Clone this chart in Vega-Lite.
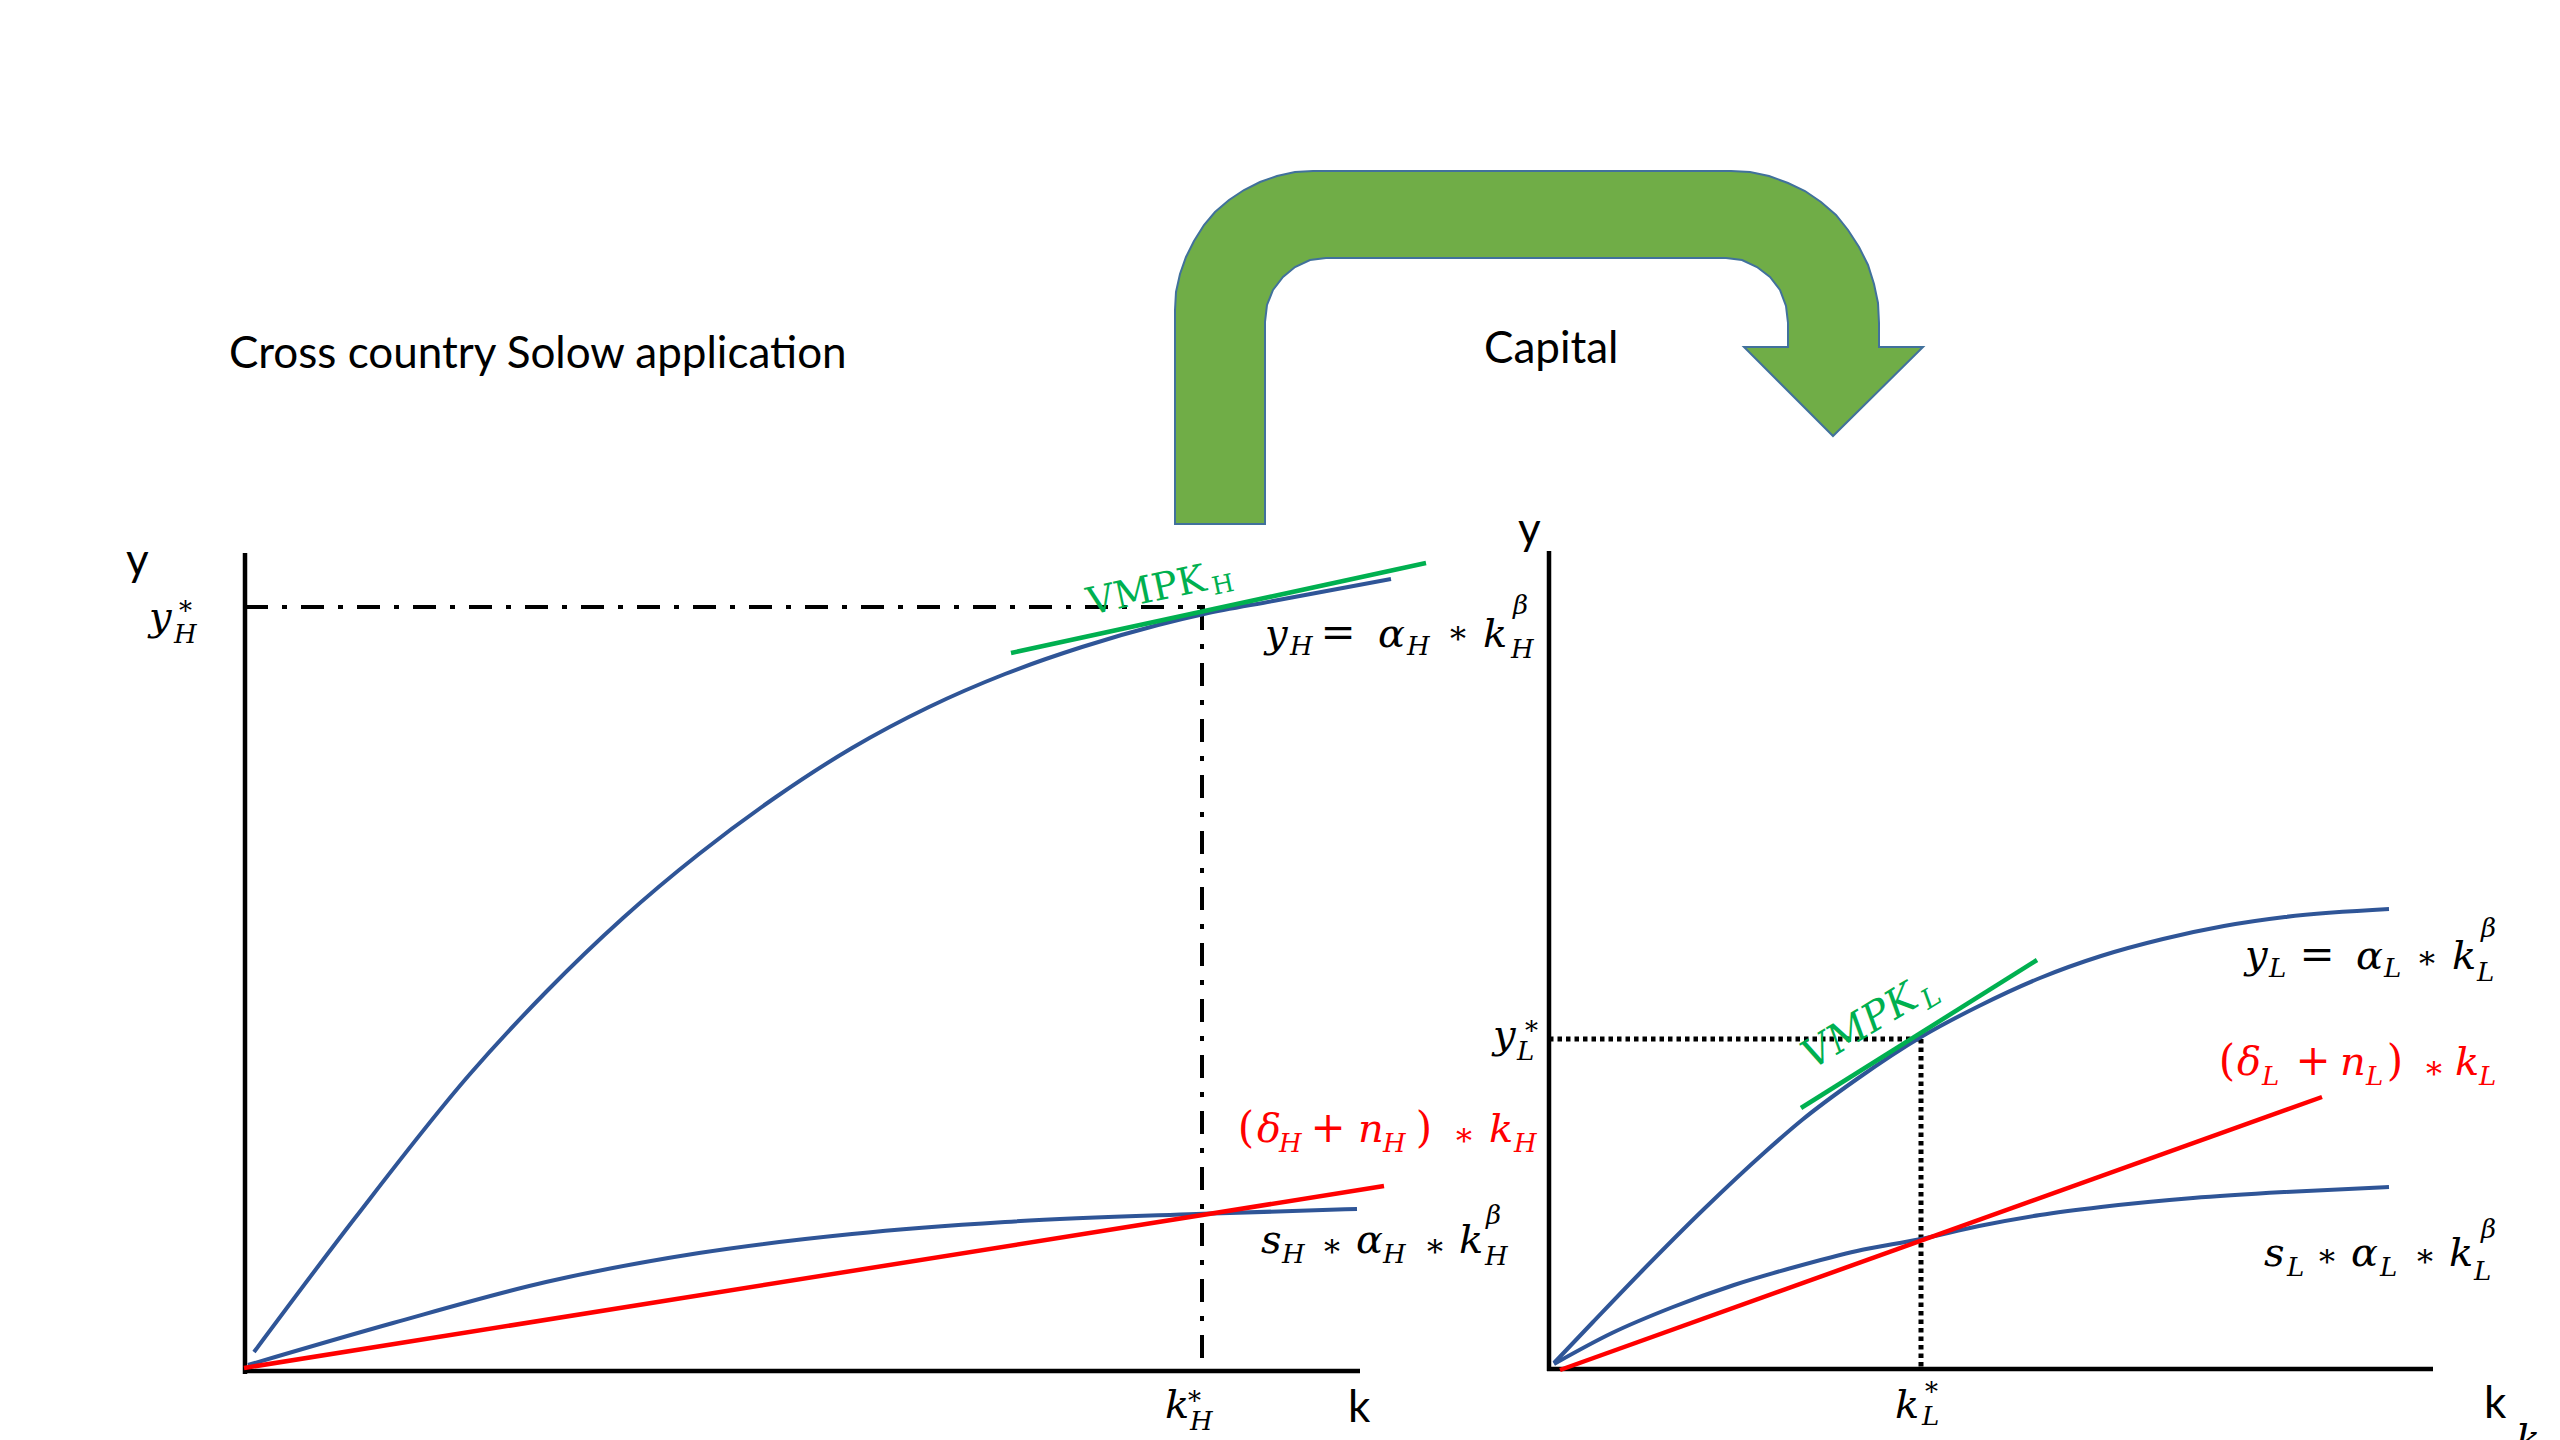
{
  "$schema": "https://vega.github.io/schema/vega-lite/v6.json",
  "width": 2560,
  "height": 1440,
  "autosize": {"type": "fit", "contains": "padding"},
  "padding": 0,
  "background": "white",
  "config": {"view": {"stroke": null}},
  "datasets": {
    "arrow": [
      {"o": 1, "x": 1175, "y": 524}, {"o": 2, "x": 1175, "y": 310}, {"o": 3, "x": 1176, "y": 292},
      {"o": 4, "x": 1180, "y": 274}, {"o": 5, "x": 1186, "y": 257}, {"o": 6, "x": 1194, "y": 241},
      {"o": 7, "x": 1204, "y": 225}, {"o": 8, "x": 1215, "y": 212}, {"o": 9, "x": 1229, "y": 200},
      {"o": 10, "x": 1244, "y": 190}, {"o": 11, "x": 1260, "y": 182}, {"o": 12, "x": 1277, "y": 176},
      {"o": 13, "x": 1295, "y": 172}, {"o": 14, "x": 1313, "y": 171}, {"o": 15, "x": 1731, "y": 171},
      {"o": 16, "x": 1750, "y": 172}, {"o": 17, "x": 1769, "y": 176}, {"o": 18, "x": 1788, "y": 183},
      {"o": 19, "x": 1805, "y": 191}, {"o": 20, "x": 1821, "y": 202}, {"o": 21, "x": 1836, "y": 215},
      {"o": 22, "x": 1848, "y": 230}, {"o": 23, "x": 1859, "y": 247}, {"o": 24, "x": 1868, "y": 265},
      {"o": 25, "x": 1874, "y": 284}, {"o": 26, "x": 1878, "y": 303}, {"o": 27, "x": 1879, "y": 323},
      {"o": 28, "x": 1879, "y": 347}, {"o": 29, "x": 1923, "y": 347}, {"o": 30, "x": 1833, "y": 436},
      {"o": 31, "x": 1744, "y": 347}, {"o": 32, "x": 1788, "y": 347}, {"o": 33, "x": 1788, "y": 323},
      {"o": 34, "x": 1786, "y": 306}, {"o": 35, "x": 1780, "y": 290}, {"o": 36, "x": 1770, "y": 277},
      {"o": 37, "x": 1757, "y": 267}, {"o": 38, "x": 1742, "y": 260}, {"o": 39, "x": 1726, "y": 258},
      {"o": 40, "x": 1326, "y": 258}, {"o": 41, "x": 1310, "y": 260}, {"o": 42, "x": 1295, "y": 267},
      {"o": 43, "x": 1283, "y": 277}, {"o": 44, "x": 1273, "y": 290}, {"o": 45, "x": 1267, "y": 305},
      {"o": 46, "x": 1265, "y": 322}, {"o": 47, "x": 1265, "y": 524}
    ],
    "curves": [
      {"id": "yH", "kind": "output", "x": 254, "y": 1352}, {"id": "yH", "kind": "output", "x": 355, "y": 1218},
      {"id": "yH", "kind": "output", "x": 470, "y": 1074}, {"id": "yH", "kind": "output", "x": 546, "y": 992},
      {"id": "yH", "kind": "output", "x": 623, "y": 918}, {"id": "yH", "kind": "output", "x": 699, "y": 854},
      {"id": "yH", "kind": "output", "x": 776, "y": 797}, {"id": "yH", "kind": "output", "x": 852, "y": 748},
      {"id": "yH", "kind": "output", "x": 929, "y": 707}, {"id": "yH", "kind": "output", "x": 1005, "y": 674},
      {"id": "yH", "kind": "output", "x": 1082, "y": 647}, {"id": "yH", "kind": "output", "x": 1158, "y": 625},
      {"id": "yH", "kind": "output", "x": 1204, "y": 614}, {"id": "yH", "kind": "output", "x": 1273, "y": 601},
      {"id": "yH", "kind": "output", "x": 1391, "y": 579},
      {"id": "sH", "kind": "output", "x": 248, "y": 1365}, {"id": "sH", "kind": "output", "x": 393, "y": 1323},
      {"id": "sH", "kind": "output", "x": 546, "y": 1282}, {"id": "sH", "kind": "output", "x": 699, "y": 1253},
      {"id": "sH", "kind": "output", "x": 852, "y": 1234}, {"id": "sH", "kind": "output", "x": 1005, "y": 1222},
      {"id": "sH", "kind": "output", "x": 1196, "y": 1214}, {"id": "sH", "kind": "output", "x": 1357, "y": 1209},
      {"id": "yL", "kind": "output", "x": 1554, "y": 1363}, {"id": "yL", "kind": "output", "x": 1593, "y": 1322},
      {"id": "yL", "kind": "output", "x": 1642, "y": 1271}, {"id": "yL", "kind": "output", "x": 1704, "y": 1209},
      {"id": "yL", "kind": "output", "x": 1765, "y": 1152}, {"id": "yL", "kind": "output", "x": 1802, "y": 1120},
      {"id": "yL", "kind": "output", "x": 1857, "y": 1079}, {"id": "yL", "kind": "output", "x": 1921, "y": 1037},
      {"id": "yL", "kind": "output", "x": 1979, "y": 1006}, {"id": "yL", "kind": "output", "x": 2040, "y": 978},
      {"id": "yL", "kind": "output", "x": 2101, "y": 956}, {"id": "yL", "kind": "output", "x": 2163, "y": 939},
      {"id": "yL", "kind": "output", "x": 2224, "y": 926}, {"id": "yL", "kind": "output", "x": 2285, "y": 917},
      {"id": "yL", "kind": "output", "x": 2389, "y": 909},
      {"id": "sL", "kind": "output", "x": 1554, "y": 1364}, {"id": "sL", "kind": "output", "x": 1612, "y": 1333},
      {"id": "sL", "kind": "output", "x": 1673, "y": 1307}, {"id": "sL", "kind": "output", "x": 1734, "y": 1285},
      {"id": "sL", "kind": "output", "x": 1795, "y": 1267}, {"id": "sL", "kind": "output", "x": 1857, "y": 1251},
      {"id": "sL", "kind": "output", "x": 1921, "y": 1239}, {"id": "sL", "kind": "output", "x": 1979, "y": 1226},
      {"id": "sL", "kind": "output", "x": 2040, "y": 1215}, {"id": "sL", "kind": "output", "x": 2101, "y": 1207},
      {"id": "sL", "kind": "output", "x": 2193, "y": 1198}, {"id": "sL", "kind": "output", "x": 2285, "y": 1192},
      {"id": "sL", "kind": "output", "x": 2389, "y": 1187},
      {"id": "dH", "kind": "dep", "x": 244, "y": 1368}, {"id": "dH", "kind": "dep", "x": 1384, "y": 1186},
      {"id": "dL", "kind": "dep", "x": 1560, "y": 1370}, {"id": "dL", "kind": "dep", "x": 2322, "y": 1097},
      {"id": "mH", "kind": "mpk", "x": 1011, "y": 653}, {"id": "mH", "kind": "mpk", "x": 1426, "y": 563},
      {"id": "mL", "kind": "mpk", "x": 1801, "y": 1108}, {"id": "mL", "kind": "mpk", "x": 2037, "y": 960}
    ],
    "axes": [
      {"x": 245, "y": 553, "x2": 245, "y2": 1374},
      {"x": 243, "y": 1371, "x2": 1360, "y2": 1371},
      {"x": 1549, "y": 551, "x2": 1549, "y2": 1371},
      {"x": 1547, "y": 1369, "x2": 2433, "y2": 1369}
    ],
    "dashdot": [
      {"x": 245, "y": 607, "x2": 1205, "y2": 607},
      {"x": 1202, "y": 607, "x2": 1202, "y2": 1371}
    ],
    "dotted": [
      {"x": 1549, "y": 1039, "x2": 1921, "y2": 1039},
      {"x": 1921, "y": 1039, "x2": 1921, "y2": 1369}
    ],
    "sans": [
      {"t": "Cross country Solow application", "x": 229, "y": 368},
      {"t": "Capital", "x": 1484, "y": 363},
      {"t": "y", "x": 126, "y": 575},
      {"t": "y", "x": 1518, "y": 544},
      {"t": "k", "x": 1348, "y": 1422},
      {"t": "k", "x": 2484, "y": 1418}
    ],
    "math": [
      {"t": "y", "x": 149, "y": 630, "c": "axis", "part": "main"},
      {"t": "k", "x": 1165, "y": 1418, "c": "axis", "part": "main"},
      {"t": "y", "x": 1493, "y": 1048, "c": "axis", "part": "main"},
      {"t": "k", "x": 1895, "y": 1418, "c": "axis", "part": "main"},
      {"t": "k", "x": 2516, "y": 1452, "c": "axis", "part": "main"},
      {"t": "y", "x": 1265, "y": 647, "c": "y", "part": "main"},
      {"t": "α", "x": 1378, "y": 647, "c": "y", "part": "main"},
      {"t": "k", "x": 1483, "y": 647, "c": "y", "part": "main"},
      {"t": "δ", "x": 1257, "y": 1142, "c": "dep", "part": "main"},
      {"t": "n", "x": 1358, "y": 1142, "c": "dep", "part": "main"},
      {"t": "k", "x": 1489, "y": 1142, "c": "dep", "part": "main"},
      {"t": "s", "x": 1261, "y": 1253, "c": "sy", "part": "main"},
      {"t": "α", "x": 1356, "y": 1253, "c": "sy", "part": "main"},
      {"t": "k", "x": 1459, "y": 1253, "c": "sy", "part": "main"},
      {"t": "y", "x": 2245, "y": 968, "c": "y", "part": "main"},
      {"t": "α", "x": 2356, "y": 969, "c": "y", "part": "main"},
      {"t": "k", "x": 2452, "y": 969, "c": "y", "part": "main"},
      {"t": "δ", "x": 2237, "y": 1075, "c": "dep", "part": "main"},
      {"t": "n", "x": 2340, "y": 1075, "c": "dep", "part": "main"},
      {"t": "k", "x": 2455, "y": 1075, "c": "dep", "part": "main"},
      {"t": "s", "x": 2264, "y": 1266, "c": "sy", "part": "main"},
      {"t": "α", "x": 2351, "y": 1266, "c": "sy", "part": "main"},
      {"t": "k", "x": 2449, "y": 1266, "c": "sy", "part": "main"},
      {"t": "H", "x": 174, "y": 643, "c": "axis", "part": "small"},
      {"t": "*", "x": 179, "y": 620, "c": "axis", "part": "small"},
      {"t": "H", "x": 1190, "y": 1430, "c": "axis", "part": "small"},
      {"t": "*", "x": 1188, "y": 1410, "c": "axis", "part": "small"},
      {"t": "L", "x": 1517, "y": 1060, "c": "axis", "part": "small"},
      {"t": "*", "x": 1525, "y": 1040, "c": "axis", "part": "small"},
      {"t": "L", "x": 1922, "y": 1425, "c": "axis", "part": "small"},
      {"t": "*", "x": 1925, "y": 1401, "c": "axis", "part": "small"},
      {"t": "H", "x": 1290, "y": 655, "c": "y", "part": "small"},
      {"t": "H", "x": 1407, "y": 655, "c": "y", "part": "small"},
      {"t": "H", "x": 1511, "y": 658, "c": "y", "part": "small"},
      {"t": "β", "x": 1513, "y": 614, "c": "y", "part": "small"},
      {"t": "H", "x": 1279, "y": 1152, "c": "dep", "part": "small"},
      {"t": "H", "x": 1383, "y": 1152, "c": "dep", "part": "small"},
      {"t": "H", "x": 1514, "y": 1152, "c": "dep", "part": "small"},
      {"t": "H", "x": 1282, "y": 1263, "c": "sy", "part": "small"},
      {"t": "H", "x": 1383, "y": 1263, "c": "sy", "part": "small"},
      {"t": "H", "x": 1485, "y": 1265, "c": "sy", "part": "small"},
      {"t": "β", "x": 1486, "y": 1224, "c": "sy", "part": "small"},
      {"t": "L", "x": 2269, "y": 977, "c": "y", "part": "small"},
      {"t": "L", "x": 2384, "y": 977, "c": "y", "part": "small"},
      {"t": "L", "x": 2477, "y": 981, "c": "y", "part": "small"},
      {"t": "β", "x": 2481, "y": 937, "c": "y", "part": "small"},
      {"t": "L", "x": 2262, "y": 1085, "c": "dep", "part": "small"},
      {"t": "L", "x": 2366, "y": 1085, "c": "dep", "part": "small"},
      {"t": "L", "x": 2479, "y": 1085, "c": "dep", "part": "small"},
      {"t": "L", "x": 2287, "y": 1276, "c": "sy", "part": "small"},
      {"t": "L", "x": 2380, "y": 1276, "c": "sy", "part": "small"},
      {"t": "L", "x": 2474, "y": 1280, "c": "sy", "part": "small"},
      {"t": "β", "x": 2481, "y": 1238, "c": "sy", "part": "small"},
      {"t": "=", "x": 1338, "y": 647, "c": "y", "part": "op"},
      {"t": "(", "x": 1246, "y": 1142, "c": "dep", "part": "op"},
      {"t": "+", "x": 1328, "y": 1142, "c": "dep", "part": "op"},
      {"t": ")", "x": 1424, "y": 1142, "c": "dep", "part": "op"},
      {"t": "=", "x": 2317, "y": 969, "c": "y", "part": "op"},
      {"t": "(", "x": 2227, "y": 1075, "c": "dep", "part": "op"},
      {"t": "+", "x": 2313, "y": 1075, "c": "dep", "part": "op"},
      {"t": ")", "x": 2395, "y": 1075, "c": "dep", "part": "op"},
      {"t": "*", "x": 1458, "y": 650, "c": "y", "part": "star"},
      {"t": "*", "x": 1464, "y": 1152, "c": "dep", "part": "star"},
      {"t": "*", "x": 1332, "y": 1263, "c": "sy", "part": "star"},
      {"t": "*", "x": 1435, "y": 1263, "c": "sy", "part": "star"},
      {"t": "*", "x": 2427, "y": 975, "c": "y", "part": "star"},
      {"t": "*", "x": 2434, "y": 1085, "c": "dep", "part": "star"},
      {"t": "*", "x": 2327, "y": 1273, "c": "sy", "part": "star"},
      {"t": "*", "x": 2425, "y": 1273, "c": "sy", "part": "star"}
    ],
    "vmpk": [
      {"t": "VMPK", "x": 1090, "y": 615, "p": "H", "part": "main"},
      {"t": "H", "x": 1214, "y": 595, "p": "H", "part": "small"},
      {"t": "VMPK", "x": 1812, "y": 1070, "p": "L", "part": "main"},
      {"t": "L", "x": 1928, "y": 1010, "p": "L", "part": "small"}
    ]
  },
  "encoding": {
    "x": {"field": "x", "type": "quantitative", "scale": {"domain": [0, 2560], "nice": false, "zero": false}, "axis": null},
    "y": {"field": "y", "type": "quantitative", "scale": {"domain": [0, 1440], "nice": false, "zero": false, "reverse": true}, "axis": null}
  },
  "layer": [
    {
      "data": {"name": "arrow"},
      "mark": {"type": "line", "interpolate": "linear-closed", "fill": "#70AD47", "stroke": "#41719C", "strokeWidth": 2},
      "encoding": {"order": {"field": "o", "type": "quantitative"}}
    },
    {
      "data": {"name": "axes"},
      "mark": {"type": "rule", "color": "black", "strokeWidth": 4.5, "strokeCap": "butt"},
      "encoding": {"x2": {"field": "x2"}, "y2": {"field": "y2"}}
    },
    {
      "data": {"name": "dashdot"},
      "mark": {"type": "rule", "color": "black", "strokeWidth": 4, "strokeDash": [23, 14, 5, 14]},
      "encoding": {"x2": {"field": "x2"}, "y2": {"field": "y2"}}
    },
    {
      "data": {"name": "dotted"},
      "mark": {"type": "rule", "color": "black", "strokeWidth": 5, "strokeDash": [4.5, 4]},
      "encoding": {"x2": {"field": "x2"}, "y2": {"field": "y2"}}
    },
    {
      "data": {"name": "curves"},
      "transform": [{"filter": "datum.kind === 'output'"}],
      "mark": {"type": "line", "interpolate": "monotone", "color": "#2F5597", "strokeWidth": 4},
      "encoding": {"detail": {"field": "id"}}
    },
    {
      "data": {"name": "curves"},
      "transform": [{"filter": "datum.kind === 'dep'"}],
      "mark": {"type": "line", "color": "#FF0000", "strokeWidth": 4.5},
      "encoding": {"detail": {"field": "id"}}
    },
    {
      "data": {"name": "curves"},
      "transform": [{"filter": "datum.kind === 'mpk'"}],
      "mark": {"type": "line", "color": "#00B050", "strokeWidth": 4.5},
      "encoding": {"detail": {"field": "id"}}
    },
    {
      "data": {"name": "sans"},
      "mark": {"type": "text", "font": "Lato", "fontSize": 44, "align": "left", "baseline": "alphabetic", "color": "black"},
      "encoding": {"text": {"field": "t"}}
    },
    {
      "data": {"name": "math"},
      "transform": [{"filter": "datum.part === 'main'"}],
      "mark": {"type": "text", "font": "DejaVu Serif", "fontStyle": "italic", "fontSize": 40, "align": "left", "baseline": "alphabetic", "clip": true},
      "encoding": {
        "text": {"field": "t"},
        "color": {"field": "c", "type": "nominal", "scale": {"domain": ["axis", "y", "sy", "dep"], "range": ["black", "black", "black", "#FF0000"]}, "legend": null}
      }
    },
    {
      "data": {"name": "math"},
      "transform": [{"filter": "datum.part === 'small'"}],
      "mark": {"type": "text", "font": "DejaVu Serif", "fontStyle": "italic", "fontSize": 26, "align": "left", "baseline": "alphabetic"},
      "encoding": {
        "text": {"field": "t"},
        "color": {"field": "c", "type": "nominal", "scale": {"domain": ["axis", "y", "sy", "dep"], "range": ["black", "black", "black", "#FF0000"]}, "legend": null}
      }
    },
    {
      "data": {"name": "math"},
      "transform": [{"filter": "datum.part === 'op'"}],
      "mark": {"type": "text", "font": "DejaVu Serif", "fontSize": 42, "align": "center", "baseline": "alphabetic"},
      "encoding": {
        "text": {"field": "t"},
        "color": {"field": "c", "type": "nominal", "scale": {"domain": ["axis", "y", "sy", "dep"], "range": ["black", "black", "black", "#FF0000"]}, "legend": null}
      }
    },
    {
      "data": {"name": "math"},
      "transform": [{"filter": "datum.part === 'star'"}],
      "mark": {"type": "text", "font": "DejaVu Serif", "fontSize": 32, "align": "center", "baseline": "alphabetic"},
      "encoding": {
        "text": {"field": "t"},
        "color": {"field": "c", "type": "nominal", "scale": {"domain": ["axis", "y", "sy", "dep"], "range": ["black", "black", "black", "#FF0000"]}, "legend": null}
      }
    },
    {
      "data": {"name": "vmpk"},
      "transform": [{"filter": "datum.p === 'H' && datum.part === 'main'"}],
      "mark": {"type": "text", "font": "DejaVu Serif", "fontSize": 38, "align": "left", "baseline": "alphabetic", "angle": -12, "color": "#00B050"},
      "encoding": {"text": {"field": "t"}}
    },
    {
      "data": {"name": "vmpk"},
      "transform": [{"filter": "datum.p === 'H' && datum.part === 'small'"}],
      "mark": {"type": "text", "font": "DejaVu Serif", "fontSize": 25, "align": "left", "baseline": "alphabetic", "angle": -12, "color": "#00B050"},
      "encoding": {"text": {"field": "t"}}
    },
    {
      "data": {"name": "vmpk"},
      "transform": [{"filter": "datum.p === 'L' && datum.part === 'main'"}],
      "mark": {"type": "text", "font": "DejaVu Serif", "fontStyle": "italic", "fontSize": 40, "align": "left", "baseline": "alphabetic", "angle": -31, "color": "#00B050"},
      "encoding": {"text": {"field": "t"}}
    },
    {
      "data": {"name": "vmpk"},
      "transform": [{"filter": "datum.p === 'L' && datum.part === 'small'"}],
      "mark": {"type": "text", "font": "DejaVu Serif", "fontStyle": "italic", "fontSize": 27, "align": "left", "baseline": "alphabetic", "angle": -31, "color": "#00B050"},
      "encoding": {"text": {"field": "t"}}
    }
  ]
}
